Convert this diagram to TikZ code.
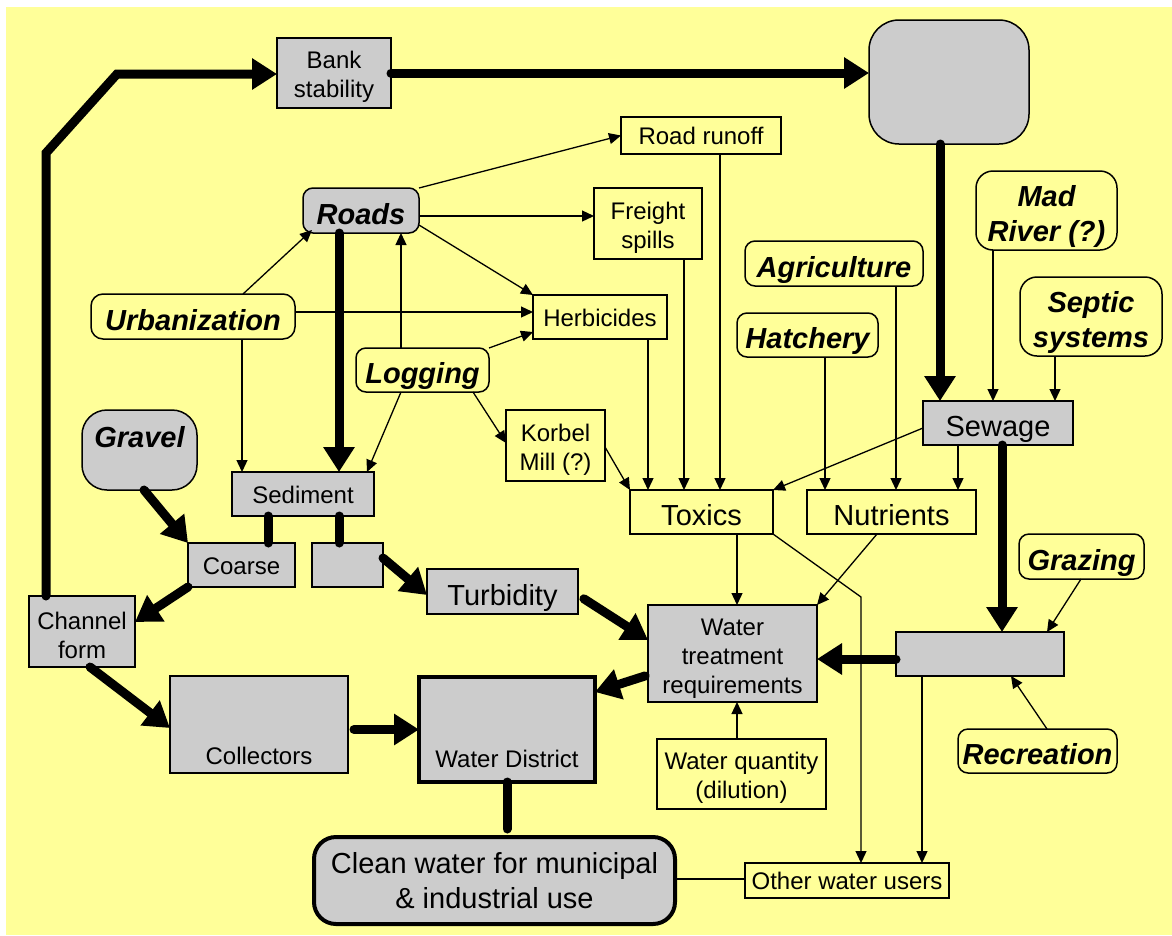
\documentclass[tikz,border=0pt]{standalone}
\usepackage{fontspec}
\setmainfont{Liberation Sans}
\usetikzlibrary{arrows.meta}
\definecolor{bgyellow}{HTML}{FFFF99}
\definecolor{boxgray}{HTML}{CCCCCC}
\newcommand{\strutS}{\rule{0pt}{25pt}}
\newcommand{\strutW}{\rule{0pt}{27pt}}
\newcommand{\strutB}{\rule{0pt}{33pt}}
\begin{document}
\begin{tikzpicture}[x=1pt,y=-1pt,
  base/.style={draw, line width=1.5pt, inner sep=0pt, outer sep=0pt, align=center,
    font=\fontsize{24}{29}\selectfont},
  gbox/.style={base, fill=boxgray},
  ybox/.style={base, fill=bgyellow},
  one/.style={text height=20pt, text depth=2pt},
  big/.style={font=\fontsize{29}{35}\selectfont},
  bigone/.style={big, text height=29pt, text depth=2pt},
  bi/.style={font=\fontsize{29}{35}\selectfont\bfseries\itshape},
  bione/.style={bi, text height=29pt, text depth=2pt},
  arr/.style={line width=1.3pt, -{Triangle[length=12pt,width=11pt]}},
  ln/.style={line width=1.3pt},
  fat/.style={line width=9pt, line cap=round, -{Triangle[length=25pt,width=30pt]}},
  fatline/.style={line width=9pt, line cap=round},
]
\fill[white] (0,0) rectangle (1172,935);
\fill[bgyellow] (6,7) rectangle (1172,935);
\useasboundingbox (0,0) rectangle (1172,935);

% nodes
\node[gbox, minimum width=114pt, minimum height=70pt] (bank) at (334,73) {\strutS Bank\\stability};
\node[gbox, rounded corners=30pt, minimum width=160pt, minimum height=124pt] (topbox) at (949,82) {};
\node[ybox, one, minimum width=160pt, minimum height=37pt] (runoff) at (701,135.5) {Road runoff};
\node[gbox, bione, rounded corners=10pt, minimum width=116pt, minimum height=45pt] (roads) at (361,210.5) {Roads};
\node[ybox, minimum width=108pt, minimum height=71pt] (freight) at (648,223.5) {\strutS Freight\\spills};
\node[ybox, bi, rounded corners=17pt, minimum width=141pt, minimum height=79pt] (madriver) at (1046.5,210.5) {\strutB Mad\\River (?)};
\node[ybox, bione, rounded corners=10pt, minimum width=178pt, minimum height=45pt] (agri) at (834,263.5) {Agriculture};
\node[ybox, bione, rounded corners=12pt, minimum width=204pt, minimum height=45pt] (urban) at (193,316.5) {Urbanization};
\node[ybox, one, minimum width=134pt, minimum height=44pt] (herb) at (600,317) {Herbicides};
\node[ybox, bi, rounded corners=17pt, minimum width=142pt, minimum height=79pt] (septic) at (1091,316.5) {\strutB Septic\\systems};
\node[ybox, bione, rounded corners=10pt, minimum width=141pt, minimum height=44pt] (hatch) at (807.5,335) {Hatchery};
\node[ybox, bione, rounded corners=10pt, minimum width=133pt, minimum height=44pt] (logging) at (422.5,370) {Logging};
\node[gbox, bi, text height=21pt, text depth=27pt, rounded corners=25pt, minimum width=115pt, minimum height=80pt] (gravel) at (139.5,450) {Gravel};
\node[ybox, minimum width=99pt, minimum height=71pt] (korbel) at (555.5,445.5) {\strutS Korbel\\Mill (?)};
\node[gbox, bigone, minimum width=150pt, minimum height=44pt] (sewage) at (998,423) {Sewage};
\node[gbox, one, minimum width=142pt, minimum height=44pt] (sediment) at (303,494) {Sediment};
\node[ybox, bigone, minimum width=143pt, minimum height=44pt] (toxics) at (701.5,512) {Toxics};
\node[ybox, bigone, minimum width=169pt, minimum height=44pt] (nutrients) at (891.5,512) {Nutrients};
\node[gbox, one, minimum width=107pt, minimum height=44pt] (coarse) at (241.5,565) {Coarse};
\node[gbox, minimum width=71pt, minimum height=44pt] (fine) at (347.5,565) {};
\node[gbox, bigone, minimum width=151pt, minimum height=45pt] (turb) at (502.5,591.5) {Turbidity};
\node[ybox, bione, rounded corners=10pt, minimum width=125pt, minimum height=45pt] (grazing) at (1081.5,556.5) {Grazing};
\node[gbox, minimum width=106pt, minimum height=71pt] (channel) at (82,631.5) {\strutS Channel\\form};
\node[gbox, minimum width=169pt, minimum height=97pt] (wt) at (732.5,653.5) {\strutW Water\\treatment\\requirements};
\node[gbox, minimum width=168pt, minimum height=44pt] (rbox) at (980,654) {};
\node[gbox, text height=82pt, text depth=3pt, minimum width=178pt, minimum height=97pt] (collectors) at (259,724.5) {Collectors};
\node[gbox, line width=4pt, text height=80pt, text depth=5pt, minimum width=176pt, minimum height=105pt] (wd) at (507,729.5) {Water District};
\node[ybox, minimum width=169pt, minimum height=70pt] (wq) at (741.5,774) {\strutS Water quantity\\(dilution)};
\node[ybox, bione, rounded corners=10pt, minimum width=159pt, minimum height=44pt] (recreation) at (1037.5,751) {Recreation};
\node[gbox, big, line width=4pt, rounded corners=22pt, minimum width=361pt, minimum height=87pt] (clean) at (494.5,880.5) {Clean water for municipal\\\& industrial use};
\node[ybox, one, minimum width=204pt, minimum height=35pt] (others) at (847,880.5) {Other water users};

% thick connectors
\draw[fat] (channel.north -| 46,0) -- (46,153) -- (117,74) -- (bank.west |- 0,74);
\draw[fat] (bank.east) -- (topbox.west |- bank.east);
\draw[fat] (topbox.south -| 940,0) -- (sewage.north -| 940,0);
\draw[fat] (roads.south -| 339,0) -- (sediment.north -| 339,0);
\draw[fat] (gravel.south -| 144,0) -- (coarse.north west);
\draw[fatline] (sediment.south -| 268,0) -- (coarse.north -| 268,0);
\draw[fatline] (sediment.south -| 339,0) -- (fine.north -| 339,0);
\draw[fat] (fine.east |- 0,558) -- (turb.west |- 0,595);
\draw[fat] (coarse.south west) -- (channel.east |- 0,622);
\draw[fat, shorten <=7pt] (turb.east |- 0,595) -- (wt.west |- 0,640);
\draw[fat] (channel.south -| 90,0) -- (collectors.west |- 0,728);
\draw[fat, shorten <=6pt] (collectors.east |- wd.west) -- (wd.west);
\draw[fat, shorten <=3pt] (wt.west |- 0,675) -- (wd.east |- 0,692);
\draw[fatline, shorten >=8pt] (wd.south) -- (wd.south |- clean.north);
\draw[fat] (sewage.south -| 1002,0) -- (rbox.north -| 1002,0);
\draw[fat] (rbox.west |- 0,659) -- (wt.east |- 0,659);

% thin connectors
\draw[arr] (roads.north east) -- (runoff.west);
\draw[arr] (roads.east |- 0,216) -- (freight.west |- 0,216);
\draw[arr] (roads.east |- 0,225) -- (herb.north west);
\draw[arr] (urban.north -| 243,0) -- ([shift={(9,-3)}]roads.south west);
\draw[arr] (urban.east |- 0,312) -- (herb.west |- 0,312);
\draw[arr] (urban.south -| 242,0) -- (sediment.north -| 242,0);
\draw[arr] (logging.north -| 401,0) -- (roads.south -| 401,0);
\draw[arr] (logging.north east) -- (herb.west |- 0,332);
\draw[arr] (logging.south -| 401,0) -- (sediment.north -| 367,0);
\draw[arr] (logging.south -| 473,0) -- (korbel.west |- 0,443);
\draw[arr] (korbel.east |- 0,447) -- (toxics.north west);
\draw[arr] (herb.south -| 648,0) -- (toxics.north -| 648,0);
\draw[arr] (freight.south -| 684,0) -- (toxics.north -| 684,0);
\draw[arr] (runoff.south -| 720,0) -- (toxics.north -| 720,0);
\draw[arr] (sewage.west |- 0,428) -- (toxics.north east);
\draw[arr] (hatch.south -| 825,0) -- (nutrients.north -| 825,0);
\draw[arr] (agri.south -| 896,0) -- (nutrients.north -| 896,0);
\draw[arr] (sewage.south -| 958,0) -- (nutrients.north -| 958,0);
\draw[arr] (madriver.south -| 993,0) -- (sewage.north -| 993,0);
\draw[arr] (septic.south -| 1055,0) -- (sewage.north -| 1055,0);
\draw[arr] (toxics.south -| 737,0) -- (wt.north -| 737,0);
\draw[arr] (nutrients.south -| 877,0) -- (wt.north east);
\draw[arr] (toxics.south east) -- (861,597) -- (others.north -| 861,0);
\draw[arr] (grazing.south -| 1081,0) -- (rbox.north -| 1047,0);
\draw[arr] (recreation.north -| 1047,0) -- (rbox.south -| 1011,0);
\draw[arr] (rbox.south -| 922,0) -- (others.north -| 922,0);
\draw[arr] (wq.north -| 737,0) -- (wt.south -| 737,0);
\draw[ln] (clean.east |- 0,879) -- (others.west |- 0,879);
\end{tikzpicture}
\end{document}
